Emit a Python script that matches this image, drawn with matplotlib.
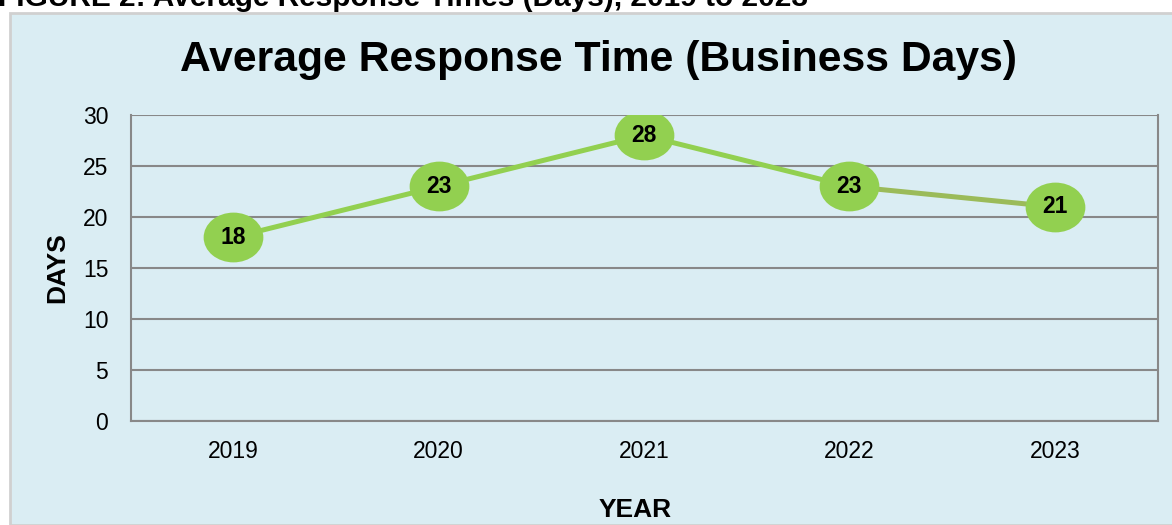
import matplotlib.pyplot as plt
import numpy as np
from matplotlib.path import Path
from matplotlib.patches import Rectangle
from matplotlib.transforms import Affine2D

# --- данные ---
years = ['2019', '2020', '2021', '2022', '2023']
days = [18, 23, 28, 23, 21]
y_ticks = [0, 5, 10, 15, 20, 25, 30]

plt.rcParams['font.family'] = ['Liberation Sans', 'DejaVu Sans']

fig = plt.figure(figsize=(11.72, 5.25), dpi=100)
W, H = 1172, 525

# фон области диаграммы (светло-голубой с серой рамкой)
fig.patches.append(Rectangle((10 / W, 0), 1.2, 1 - 13 / H, transform=fig.transFigure,
                             facecolor='#DAEDF3', edgecolor='#D0D0D0', lw=2, zorder=0))

# обрезанная подпись сверху
fig.text(-2 / W, 1 - 6 / H, 'FIGURE 2: Average Response Times (Days), 2019 to 2023',
         fontsize=21.5, fontweight='bold', va='baseline', ha='left')

ax = fig.add_axes([130.5 / W, 1 - 421 / H, (1157.5 - 130.5) / W, (421 - 115) / H])
ax.set_zorder(2)
ax.set_facecolor('none')

x = np.arange(len(years))

# эллиптический маркер
ell = Path.unit_circle().transformed(Affine2D().scale(1.2, 1.0))

ax.plot(x[:-1], days[:-1], color='#92D050', lw=3.6, zorder=3, solid_capstyle='butt')
ax.plot(x[-2:], days[-2:], color='#9BBB59', lw=3.6, zorder=3, solid_capstyle='butt')
ax.plot(x, days, ls='none', marker=ell, markersize=43, color='#92D050',
        markeredgewidth=0, zorder=4)
for xi, v in zip(x, days):
    ax.text(xi, v, str(v), ha='center', va='center', fontsize=16.5,
            fontweight='bold', zorder=5)

ax.set_xlim(-0.5, len(years) - 0.5)
ax.set_ylim(0, 30)
ax.set_yticks(y_ticks)
ax.set_xticks(x)
ax.set_xticklabels(years)
ax.tick_params(length=0, labelsize=16.5, pad=14)
ax.tick_params(axis='y', pad=16)
ax.grid(axis='y', color='#888888', lw=1.5)
ax.set_axisbelow(True)
for s in ['left', 'right', 'bottom']:
    ax.spines[s].set_color('#888888')
    ax.spines[s].set_linewidth(1.5)
ax.spines['top'].set_visible(False)

ax.set_ylabel('DAYS', fontsize=19, fontweight='bold', labelpad=10)
ax.set_xlabel('YEAR', fontsize=19, fontweight='bold', labelpad=25)
ax.xaxis.label.set_x(0.491)

fig.text(598 / W, 1 - 60 / H, 'Average Response Time (Business Days)',
         fontsize=30.7, fontweight='bold', ha='center', va='center')

fig.savefig('out.png', dpi=100)
